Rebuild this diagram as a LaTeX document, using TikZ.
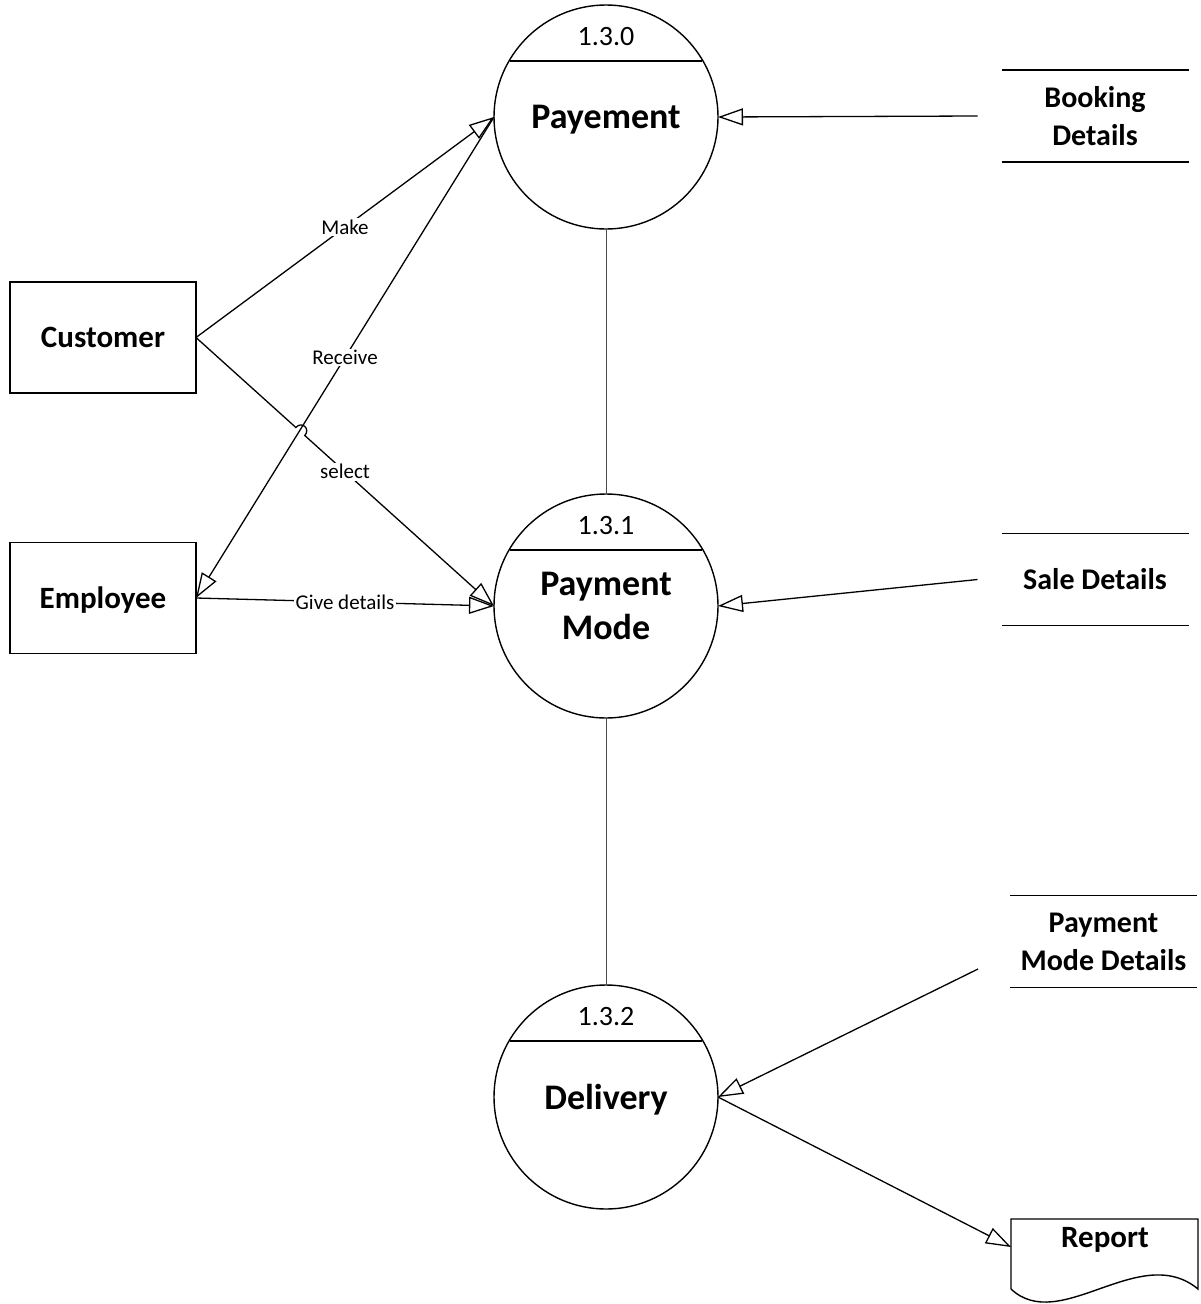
\documentclass[tikz,border=0pt]{standalone}
\usepackage{fontspec}
\setmainfont{Carlito}
\usetikzlibrary{arrows.meta,calc}
\begin{document}
\begin{tikzpicture}[x=1pt,y=-1pt,
  proc/.style={circle, draw, line width=1.4pt, minimum size=224pt, inner sep=0pt, outer sep=0pt,
    align=center, font=\bfseries\fontsize{36}{44}\selectfont},
  pid/.style={font=\fontsize{28}{32}\selectfont, inner sep=0pt},
  ent/.style={draw, line width=1.4pt, minimum width=186pt, minimum height=111pt, outer sep=0pt,
    text depth=0pt, font=\bfseries\fontsize{31}{36}\selectfont},
  store/.style={minimum width=187pt, minimum height=92pt, inner sep=0pt, outer sep=0pt, align=center,
    font=\bfseries\fontsize{30}{38}\selectfont},
  storeline/.style={line width=1.5pt},
  flow/.style={line width=1.3pt, -{Triangle[open, length=25pt, width=17pt, line width=1.3pt]}},
  link/.style={line width=0.9pt, draw=black!70},
  lbl/.style={fill=white, inner sep=1.5pt, font=\fontsize{21}{24}\selectfont}]
\useasboundingbox (0,0) rectangle (1200,1304);

% processes
\node[proc, text depth=0pt] (pay) at (606,117) {Payement};
\node[proc] (pm) at (606,606) {Payment\\Mode};
\node[proc, text depth=0pt] (del) at (606,1097) {Delivery};
\foreach \p/\n in {pay/1.3.0, pm/1.3.1, del/1.3.2}{
  \draw[line width=1.4pt] ($(\p.center)+(-96.4,-56)$) -- ($(\p.center)+(96.4,-56)$);
  \node[pid] (\p-id) at ($(\p.center)+(0,-80)$) {\n};
}

% entities
\node[ent] (cust) at (103,337.5) {Customer};
\node[ent] (emp) at (103,598) {Employee};

% data stores
\node[store] (bk) at (1095,116) {Booking\\Details};
\node[store] (sale) at (1095,579.5) {Sale Details};
\node[store] (pmd) at (1103.5,941.5) {Payment\\Mode Details};
\foreach \s in {bk, sale, pmd}{
  \draw[storeline] (\s.north west) -- (\s.north east) (\s.south west) -- (\s.south east);
}

% report document
\node[minimum width=187pt, minimum height=70pt, inner sep=0pt, outer sep=0pt] (report) at (1104.5,1254) {};
\draw[line width=1.4pt] (report.south west) -- (report.north west) -- (report.north east) -- (report.south east)
  .. controls ($(report.south east)+(-58,-48)$) and ($(report.south west)+(49,46)$) .. (report.south west);
\node[font=\bfseries\fontsize{31}{36}\selectfont, inner sep=0pt, text depth=0pt] (replbl) at (1105,1237) {Report};

% links between processes
\draw[link] (pay.south) -- (pm.north);
\draw[link] (pm.south) -- (del.north);

% flows
\draw[flow] ($(bk.west)+(-24,0)$) -- (pay.east);
\draw[flow] (cust.east) -- node[lbl] (make) {Make} (pay.west);
\draw[flow] (pay.west) -- node[lbl] (recv) {Receive} (emp.east);
\coordinate (ja) at ($(cust.east)!0.335!(pm.west)$);
\coordinate (jb) at ($(cust.east)!0.365!(pm.west)$);
\draw[flow] (cust.east) -- (ja) .. controls ($(ja)!9pt!90:(jb)$) and ($(jb)!9pt!-90:(ja)$) .. (jb) -- (pm.west);
\node[lbl] (sel) at ($(cust.east)!0.5!(pm.west)$) {select};
\draw[flow] (emp.east) -- node[lbl] (give) {Give details} (pm.west);
\draw[flow] ($(sale.west)+(-24,0)$) -- (pm.east);
\draw[flow] ($(pmd.west)+(-32,27.5)$) -- (del.east);
\draw[flow] (del.east) -- ($(report.north west)+(0,28)$);
\end{tikzpicture}
\end{document}
